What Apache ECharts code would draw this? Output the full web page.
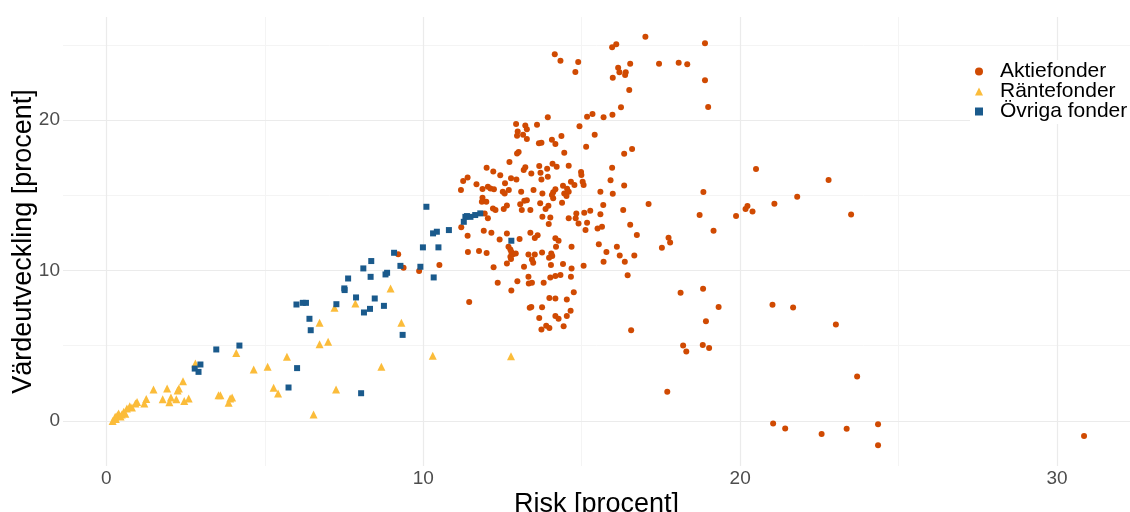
<!DOCTYPE html>
<html>
<head>
<meta charset="utf-8">
<script src="https://cdn.jsdelivr.net/npm/echarts@6/dist/echarts.min.js"></script>
<style>
  html, body { margin: 0; padding: 0; background: #ffffff; }
  #chart { width: 1130px; height: 512px; }
</style>
</head>
<body>
<div id="chart"></div>
<script>
// Risk (x) and value growth (y), both in percent, per fund category
const aktiefonder = [
  [11.19,15.35],[11.2,12.87],[11.4,12.31],[11.41,11.24],[9.21,11.09],[9.38,10.18],[9.87,9.96],[10.51,10.36],[11.45,7.9],
  [16.5,22.0],[13.93,20.19],[15.17,20.23],[15.34,20.41],[15.69,20.19],[15.97,20.36],[16.24,20.85],
  [12.93,19.74],[13.22,19.65],[13.59,19.69],[14.93,19.59],[12.98,19.25],[13.27,19.39],[13.15,19.03],[12.96,18.96],[13.27,18.74],[14.06,18.7],[14.36,18.94],[15.41,19.03],
  [13.65,18.46],[13.73,18.5],[14.17,18.41],[15.14,18.23],[14.45,17.83],[13.01,17.88],[12.96,17.79],[16.34,17.76],[16.59,18.08],
  [12.72,17.21],[13.66,16.95],[14.08,17.1],[14.21,16.9],[14.59,16.97],[12.0,16.83],[12.21,16.59],[12.43,16.33],[13.17,16.68],[13.22,16.86],[13.7,16.5],[13.91,16.77],[13.41,16.46],[13.93,16.23],[13.73,16.06],[14.98,16.56],[14.99,16.35],[15.96,16.83],
  [11.26,15.95],[11.4,16.19],[11.68,15.73],[11.87,15.42],[12.04,15.57],[12.12,15.46],[12.23,15.4],[12.58,15.8],[12.77,16.13],[12.94,16.06],[12.51,15.24],[12.7,15.35],[12.57,15.13],[13.09,15.24],[13.48,15.35],[13.76,15.13],[14.1,15.2],[14.17,15.4],[14.06,15.02],[14.1,14.8],[14.41,15.64],[14.54,15.44],[14.66,15.9],[14.77,15.68],[14.59,15.24],[14.45,15.13],[14.52,14.95],[15.03,15.9],[15.06,15.68],[15.59,15.24],[15.91,16.01],[16.34,15.66],[15.98,15.1],
  [11.87,14.84],[11.85,14.57],[11.99,14.57],[12.2,14.13],[12.28,14.02],[12.54,14.09],[12.64,14.33],[13.06,14.4],[13.19,14.64],[13.27,14.68],[13.11,14.02],[13.38,14.02],[13.69,14.47],[13.86,14.09],[13.95,14.3],[14.38,14.5],[14.83,13.8],[15.08,13.84],[15.27,13.97],[15.59,13.75],[15.68,14.35],[16.31,14.02],[11.94,13.8],[13.76,13.57],[14.01,13.53],[14.59,13.47],[14.81,13.47],
  [12.04,13.47],[11.91,12.64],[12.15,12.51],[12.41,12.07],[12.64,12.47],[13.04,12.09],[13.38,12.51],[13.52,12.16],[13.61,12.34],[13.96,13.09],
  [14.9,13.13],[15.17,13.17],[15.12,12.69],[15.5,12.8],[15.64,12.91],[16.53,13.04],[16.74,12.36],[14.17,12.14],[14.27,11.98],[14.19,11.58],[14.68,11.58],[15.54,11.74],[16.11,11.58],[15.78,11.24],[16.2,11.0],[16.66,11.0],[15.69,10.58],[16.36,10.58],[15.06,10.31],[14.68,10.14],[14.41,10.43],[14.03,10.36],[14.04,11.14],[14.07,10.96],[13.97,10.85],[13.52,11.07],[13.32,11.07],[13.43,10.74],[13.47,10.51],[13.75,11.2],[13.18,10.25],[11.76,11.29],[12.0,11.16],[12.22,10.21],[12.64,10.47],[12.69,11.58],[12.75,11.4],[12.78,11.24],[12.83,11.09],[12.92,11.14],[12.75,10.91],[12.77,10.76],
  [13.32,9.58],[13.33,9.14],[13.43,9.18],[13.8,9.18],[14.01,9.54],[14.17,9.63],[14.33,9.71],[14.66,9.58],[12.97,9.29],[12.78,8.67],[12.35,9.18],[14.75,8.56],[13.98,8.18],[14.17,8.14],[14.53,8.08],[13.75,7.56],[13.36,7.52],[13.41,7.58],[14.65,7.32],[13.66,6.85],[14.17,6.97],[14.27,6.79],[14.53,6.97],[14.43,6.3],[13.88,6.32],[13.98,6.17],[13.73,6.08],[16.56,6.03],[16.45,9.69],
  [17.01,25.55],[16.09,25.04],[15.96,24.84],[14.15,24.38],[14.33,23.95],[14.89,23.86],[14.8,23.2],[16.15,23.49],[16.19,23.18],[16.39,23.18],[16.37,23.0],[15.98,22.82],[16.53,23.75],[17.44,23.75],[18.06,23.82],[18.33,23.71],[18.89,25.11],[18.89,22.65],[18.99,20.87],
  [17.11,14.42],[17.74,12.18],[18.84,15.22],[18.72,13.69],[19.16,12.64],[19.87,13.62],[20.17,14.09],[20.23,14.29],[20.39,13.93],[20.5,16.75],[21.08,14.44],[21.8,14.9],[22.79,16.02],
  [17.79,11.87],[17.53,11.51],[18.12,8.52],[18.83,8.78],[19.32,7.58],[18.92,6.63],[18.2,5.02],[18.3,4.62],[18.82,5.04],[19.02,4.84],[17.7,1.93],[21.02,7.72],[21.67,7.54],[23.02,6.41],[23.69,2.95],
  [21.04,-0.17],[21.42,-0.51],[22.57,-0.87],[23.36,-0.53],[24.35,-0.22],[24.35,-1.62],[23.5,13.73],[30.85,-1.0]
];

const rantefonder = [
  [0.2,0.0],[0.28,0.27],[0.3,0.12],[0.35,0.38],[0.39,0.49],[0.45,0.3],[0.49,0.42],[0.55,0.6],[0.6,0.48],[0.65,0.82],[0.74,0.98],[0.81,0.89],[0.92,1.16],[0.97,1.26],
  [1.2,1.16],[1.26,1.46],[1.49,2.09],[1.78,1.44],[1.92,2.15],[1.99,1.24],[2.04,1.56],[2.21,1.44],[2.25,2.02],[2.29,2.16],[2.42,2.64],[2.46,1.33],[2.6,1.49],[2.81,3.82],
  [3.54,1.71],[3.6,1.71],[3.86,1.2],[3.91,1.49],[3.97,1.56],[4.1,4.52],[4.65,3.42],[5.09,3.6],[5.28,2.2],[5.42,1.82],[5.7,4.26],
  [8.97,8.81],[7.2,7.52],[7.86,7.81],[6.73,6.52],[9.31,6.52],[6.73,5.1],[7.0,5.26],[10.3,4.33],[8.68,3.6],[7.25,2.09],[12.77,4.3],[6.54,0.42]
];

const ovrigaFonder = [
  [3.47,4.75],[4.2,5.01],[2.79,3.48],[2.97,3.75],[2.91,3.26],[5.75,2.22],
  [10.1,14.24],[11.33,13.57],[11.28,13.24],[10.31,12.47],[10.43,12.58],[10.81,12.69],[9.08,11.18],[9.99,11.54],[10.48,11.54],[9.28,10.31],[9.91,10.25],
  [8.36,10.63],[8.11,10.14],[10.33,9.54],[8.81,9.74],[8.86,9.85],[8.34,9.58],[7.63,9.47],[7.51,8.81],[7.52,8.7],[7.88,8.21],[8.47,8.14],[7.26,7.76],
  [8.76,7.65],[8.32,7.45],[8.13,7.21],[6.0,7.74],[6.2,7.85],[6.3,7.85],[6.41,6.79],[6.45,6.03],[9.35,5.72],[6.02,3.51],[8.04,1.84],
  [11.49,13.57],[11.64,13.69],[11.8,13.8],[11.38,13.62],[12.78,11.98]
];

const seriesNames = ['Aktiefonder', 'Räntefonder', 'Övriga fonder'];
const xTicks = [0, 10, 20, 30];
const xMinorTicks = [5, 15, 25];
const yTicks = [0, 10, 20];
const yMinorTicks = [5, 15, 25];

const FONT = '"Liberation Sans", Arial, sans-serif';
const COLORS = ['#D04A02', '#FBBC3A', '#1A5A8C'];

const majorLine = { color: '#EBEBEB', width: 1.2, type: 'solid' };
const minorLine = { color: '#F4F4F4', width: 1, type: 'solid' };

const gridLineData = [].concat(
  xMinorTicks.map(v => ({ xAxis: v, lineStyle: minorLine })),
  yMinorTicks.map(v => ({ yAxis: v, lineStyle: minorLine })),
  xTicks.map(v => ({ xAxis: v, lineStyle: majorLine })),
  yTicks.map(v => ({ yAxis: v, lineStyle: majorLine }))
);

const chart = echarts.init(document.getElementById('chart'), null, { renderer: 'canvas' });

chart.setOption({
  animation: false,
  backgroundColor: '#ffffff',
  textStyle: { fontFamily: FONT },
  grid: { left: 63, right: 0, top: 17, bottom: 46, containLabel: false, outerBoundsMode: 'none' },
  xAxis: {
    type: 'value',
    min: -1.366,
    max: 32.3,
    axisLine: { show: false },
    axisTick: { show: false },
    splitLine: { show: false },
    axisLabel: { customValues: xTicks, fontSize: 19, color: '#4D4D4D', margin: 3, fontFamily: FONT },
    name: 'Risk [procent]',
    nameLocation: 'middle',
    nameGap: 25,
    nameMoveOverlap: false,
    nameTextStyle: { fontSize: 27, color: '#000000', fontFamily: FONT }
  },
  yAxis: {
    type: 'value',
    min: -3.0,
    max: 26.86,
    axisLine: { show: false },
    axisTick: { show: false },
    splitLine: { show: false },
    axisLabel: { customValues: yTicks, fontSize: 19, color: '#4D4D4D', margin: 3, fontFamily: FONT },
    name: 'Värdeutveckling [procent]',
    nameLocation: 'middle',
    nameGap: 26,
    nameMoveOverlap: false,
    nameTextStyle: { fontSize: 27, color: '#000000', fontFamily: FONT }
  },
  legend: {
    orient: 'vertical',
    left: 970,
    top: 60,
    z: 10,
    itemWidth: 8,
    itemHeight: 8,
    itemGap: -1,
    padding: [1, 8, 2, 5],
    backgroundColor: '#ffffff',
    textStyle: { fontSize: 21, color: '#000000', fontFamily: FONT, lineHeight: 19, padding: [0, 0, 0, 12] },
    data: [
      { name: seriesNames[0], icon: 'circle' },
      { name: seriesNames[1], icon: 'triangle' },
      { name: seriesNames[2], icon: 'rect' }
    ]
  },
  series: [
    {
      type: 'scatter',
      data: [],
      silent: true,
      z: 0,
      markLine: {
        silent: true,
        z: 0,
        symbol: ['none', 'none'],
        label: { show: false },
        emphasis: { disabled: true },
        animation: false,
        data: gridLineData
      }
    },
    {
      name: seriesNames[0],
      type: 'scatter',
      symbol: 'circle',
      symbolSize: 6,
      z: 2,
      itemStyle: { color: COLORS[0], opacity: 1 },
      data: aktiefonder
    },
    {
      name: seriesNames[1],
      type: 'scatter',
      symbol: 'triangle',
      symbolSize: 8,
      z: 3,
      itemStyle: { color: COLORS[1], opacity: 1 },
      data: rantefonder
    },
    {
      name: seriesNames[2],
      type: 'scatter',
      symbol: 'rect',
      symbolSize: 6,
      z: 4,
      itemStyle: { color: COLORS[2], opacity: 1 },
      data: ovrigaFonder
    }
  ]
});
</script>
</body>
</html>
